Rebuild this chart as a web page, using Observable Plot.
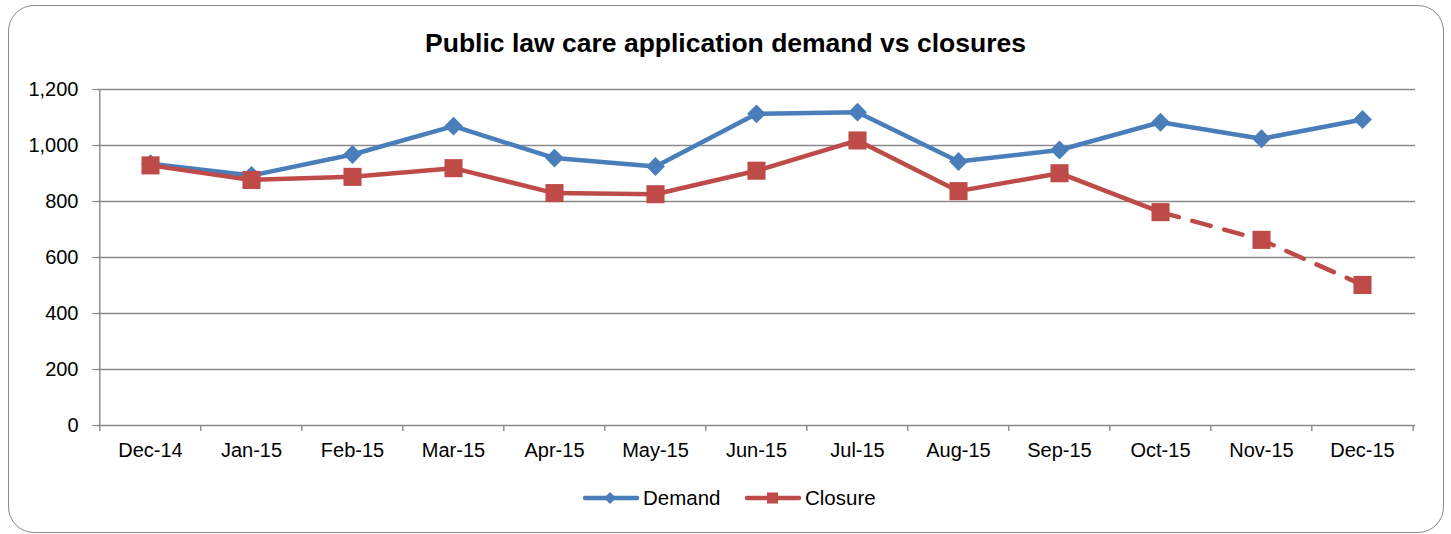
<!DOCTYPE html>
<html>
<head>
<meta charset="utf-8">
<script src="https://cdn.jsdelivr.net/npm/d3@7"></script>
<script src="https://cdn.jsdelivr.net/npm/@observablehq/plot@0.6"></script>
<style>
  html, body { margin: 0; padding: 0; background: #fff; }
  #wrap { position: relative; width: 1451px; height: 534px; font-family: "Liberation Sans", Arial, sans-serif; overflow: hidden; }
  #box { position: absolute; left: 8px; top: 5px; width: 1436px; height: 528px; box-sizing: border-box; border: 1.5px solid #8a8a8a; border-radius: 26px; }
  #title { position: absolute; left: 0; top: 27px; width: 1451px; text-align: center; font-weight: bold; font-size: 26.5px; line-height: 32px; color: #000; }
  #chart { position: absolute; left: 0; top: 0; }
  #chart svg [aria-label^="y-axis"] line, #chart svg [aria-label^="y-axis"] path { stroke: #8a8a8a; }
  #legend { position: absolute; left: 0; top: 484px; width: 1451px; height: 30px; }
  #legend span { position: absolute; top: 2px; font-size: 20.5px; line-height: 24px; color: #000; }
</style>
</head>
<body>
<div id="wrap">
  <div id="box"></div>
  <div id="title">Public law care application demand vs closures</div>
  <div id="chart"></div>
  <div id="legend">
    <svg width="1451" height="30" style="position:absolute;left:0;top:0">
      <line x1="585" y1="14" x2="637" y2="14" stroke="#4A7EBB" stroke-width="4.5" stroke-linecap="round"/>
      <path d="M610,8 L616,14 L610,20 L604,14 Z" fill="#4A7EBB"/>
      <line x1="747" y1="14" x2="799" y2="14" stroke="#BE4B48" stroke-width="4.5" stroke-linecap="round"/>
      <rect x="767" y="8.5" width="11" height="11" fill="#BE4B48"/>
    </svg>
    <span style="left:643px">Demand</span>
    <span style="left:805px">Closure</span>
  </div>
</div>
<script>
// Data
const months = ["Dec-14","Jan-15","Feb-15","Mar-15","Apr-15","May-15","Jun-15","Jul-15","Aug-15","Sep-15","Oct-15","Nov-15","Dec-15"];
const demand = [935, 893, 968, 1069, 955, 925, 1113, 1119, 943, 984, 1083, 1024, 1093];
const closure = [929, 877, 888, 919, 830, 826, 910, 1018, 837, 901, 762, 663, 502];
const closureDashedFrom = "Oct-15";
const yTicks = [0, 200, 400, 600, 800, 1000, 1200];

const blue = "#4A7EBB";
const red = "#BE4B48";
const gray = "#8a8a8a";

const demandData = months.map((m, i) => ({month: m, value: demand[i]}));
const closureData = months.map((m, i) => ({month: m, value: closure[i]}));
const cut = months.indexOf(closureDashedFrom);
const closureSolid = closureData.slice(0, cut + 1);
const closureDashed = closureData.slice(cut);

const W = 1451, H = 470, mL = 97, mR = 36, mT = 89, mB = 45;
const step = (W - mL - mR) / months.length;
const plotH = H - mT - mB;

const chart = Plot.plot({
  width: W,
  height: H,
  marginLeft: mL,
  marginRight: mR,
  marginTop: mT,
  marginBottom: mB,
  style: {fontSize: "20px", fontFamily: "'Liberation Sans', Arial, sans-serif", color: "#000", background: "transparent", overflow: "visible"},
  x: {type: "point", domain: months, padding: 0.5, label: null, tickSize: 0, tickPadding: 17},
  y: {domain: [0, 1200], ticks: yTicks, tickFormat: d3.format(","), tickSize: 5, tickPadding: 14, label: null},
  marks: [
    Plot.ruleY(yTicks.filter(d => d > 0), {stroke: gray, strokeWidth: 1.4}),
    Plot.ruleY([0], {stroke: gray, strokeWidth: 1.4}),
    Plot.ruleX([months[0]], {dx: -step / 2, stroke: gray, strokeWidth: 1.4}),
    Plot.ruleX(months, {dx: -step / 2, insetTop: plotH, insetBottom: -6, stroke: gray, strokeWidth: 1.4}),
    Plot.ruleX([months[months.length - 1]], {dx: step / 2, insetTop: plotH, insetBottom: -6, stroke: gray, strokeWidth: 1.4}),
    Plot.line(demandData, {x: "month", y: "value", stroke: blue, strokeWidth: 4.5, strokeLinejoin: "round"}),
    Plot.dot(demandData, {x: "month", y: "value", symbol: "diamond2", r: 8.5, fill: blue, stroke: null}),
    Plot.line(closureSolid, {x: "month", y: "value", stroke: red, strokeWidth: 4.5, strokeLinejoin: "round"}),
    Plot.line(closureDashed, {x: "month", y: "value", stroke: red, strokeWidth: 4.5, strokeDasharray: "19,14", strokeLinecap: "round"}),
    Plot.dot(closureData, {x: "month", y: "value", symbol: "square", r: 10.2, fill: red, stroke: null})
  ]
});
document.getElementById("chart").appendChild(chart);
</script>
</body>
</html>
